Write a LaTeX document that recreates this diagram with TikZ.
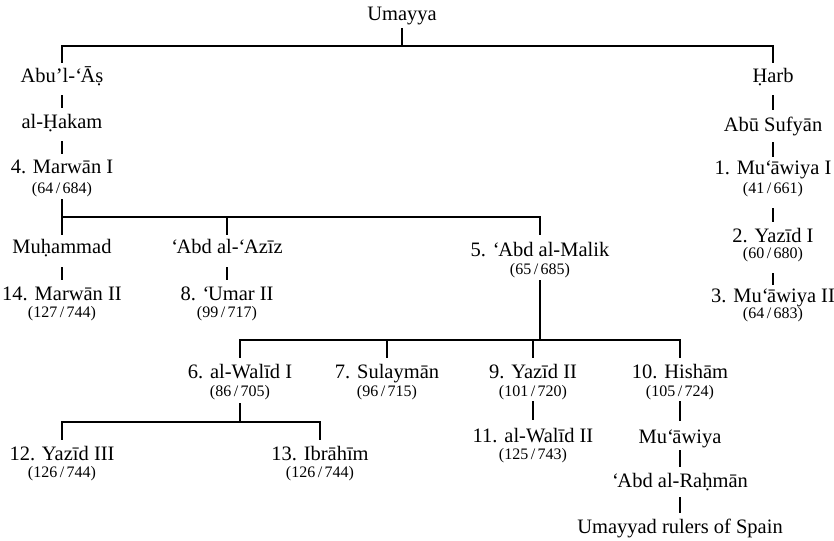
\documentclass[tikz,border=0pt]{standalone}
\usepackage{fontspec}
\setmainfont{Liberation Serif}
\newcommand\yr[2]{(#1\kern2.5pt/\kern2.5pt#2)}
\newcommand\ain{‘\kern-1.5pt}
\begin{document}
\begin{tikzpicture}[x=1pt,y=-1pt,
  nm/.style={anchor=base,inner sep=0pt,font=\fontsize{20.5}{24}\selectfont,text height=14pt,text depth=5pt},
  dt/.style={anchor=base,inner sep=0pt,font=\fontsize{16}{19}\selectfont,text height=10pt,text depth=4pt},
  ln/.style={line width=1.6pt}]
\useasboundingbox (0,0) rectangle (834,540);
% nodes
\node[nm] (umayya) at (402,20.7) {Umayya};
\node[nm] (abul) at (62,83) {Abu’l-\ain Āṣ};
\node[nm] (hakam) at (62,129) {al-Ḥakam};
\node[nm] (marwan1) at (62,174) {4. Marwān I};
\node[dt] (marwan1D) at (62,193) {\yr{64}{684}};
\node[nm] (harb) at (773,83) {Ḥarb};
\node[nm] (sufyan) at (773,132) {Abū Sufyān};
\node[nm] (muaw1) at (773,175) {1. Mu\ain āwiya I};
\node[dt] (muaw1D) at (773,193) {\yr{41}{661}};
\node[nm] (yazid1) at (773,242) {2. Yazīd I};
\node[dt] (yazid1D) at (773,258) {\yr{60}{680}};
\node[nm] (muaw2) at (773,302) {3. Mu\ain āwiya II};
\node[dt] (muaw2D) at (773,318) {\yr{64}{683}};
\node[nm] (muhammad) at (62,253) {Muḥammad};
\node[nm] (abdalaziz) at (227,253) {\ain Abd al-\ain Azīz};
\node[nm] (abdmalik) at (540,256) {5. \ain Abd al-Malik};
\node[dt] (abdmalikD) at (540,274) {\yr{65}{685}};
\node[nm] (marwan2) at (62,300) {14. Marwān II};
\node[dt] (marwan2D) at (62,317) {\yr{127}{744}};
\node[nm] (umar2) at (227,300) {8. \ain Umar II};
\node[dt] (umar2D) at (227,317) {\yr{99}{717}};
\node[nm] (walid1) at (240,378) {6. al-Walīd I};
\node[dt] (walid1D) at (240,396) {\yr{86}{705}};
\node[nm] (sulayman) at (387,378) {7. Sulaymān};
\node[dt] (sulaymanD) at (387,396) {\yr{96}{715}};
\node[nm] (yazid2) at (533,378) {9. Yazīd II};
\node[dt] (yazid2D) at (533,396) {\yr{101}{720}};
\node[nm] (hisham) at (680,378) {10. Hishām};
\node[dt] (hishamD) at (680,396) {\yr{105}{724}};
\node[nm] (walid2) at (533,442) {11. al-Walīd II};
\node[dt] (walid2D) at (533,459) {\yr{125}{743}};
\node[nm] (muawiya) at (680,443) {Mu\ain āwiya};
\node[nm] (rahman) at (680,487) {\ain Abd al-Raḥmān};
\node[nm] (rulers) at (680,533) {Umayyad rulers of Spain};
\node[nm] (yazid3) at (62,460) {12. Yazīd III};
\node[dt] (yazid3D) at (62,477) {\yr{126}{744}};
\node[nm] (ibrahim) at (320,460) {13. Ibrāhīm};
\node[dt] (ibrahimD) at (320,477) {\yr{126}{744}};
% bar coordinates
\coordinate (bar1) at (402,46);
\coordinate (bar2) at (300,217);
\coordinate (bar3) at (460,340);
\coordinate (bar4) at (200,422);
% top bar
\draw[ln,shorten <=2pt] (umayya.south) -- (umayya.south |- bar1);
\draw[ln,shorten <=6pt,shorten >=6pt] (abul.north) |- (bar1) -| (harb.north);
% left line
\draw[ln,shorten <=7pt,shorten >=7pt] (abul.south) -- (hakam.north);
\draw[ln,shorten <=7pt,shorten >=6pt] (hakam.south) -- (marwan1.north);
% Marwan bar
\draw[ln,shorten <=2pt] (marwan1D.south) -- (marwan1D.south |- bar2);
\draw[ln,shorten <=4pt,shorten >=7pt] (muhammad.north) |- (bar2) -| (abdmalik.north);
\draw[ln,shorten >=4pt] (abdalaziz.north |- bar2) -- (abdalaziz.north);
\draw[ln,shorten <=9pt,shorten >=6pt] (muhammad.south) -- (marwan2.north);
\draw[ln,shorten <=9pt,shorten >=6pt] (abdalaziz.south) -- (umar2.north);
% Abd al-Malik bar
\draw[ln,shorten <=2pt] (abdmalikD.south) -- (abdmalikD.south |- bar3);
\draw[ln,shorten <=6pt,shorten >=6pt] (walid1.north) |- (bar3) -| (hisham.north);
\draw[ln,shorten >=6pt] (sulayman.north |- bar3) -- (sulayman.north);
\draw[ln,shorten >=6pt] (yazid2.north |- bar3) -- (yazid2.north);
% al-Walid bar
\draw[ln,shorten <=3pt] (walid1D.south) -- (walid1D.south |- bar4);
\draw[ln,shorten <=6pt,shorten >=6pt] (yazid3.north) |- (bar4) -| (ibrahim.north);
% Yazid II and Hisham lines
\draw[ln,shorten <=1pt,shorten >=8pt] (yazid2D.south) -- (walid2.north);
\draw[ln,shorten <=1pt,shorten >=8pt] (hishamD.south) -- (muawiya.north);
\draw[ln,shorten <=2pt,shorten >=6pt] (muawiya.south) -- (rahman.north);
\draw[ln,shorten <=5pt,shorten >=6pt] (rahman.south) -- (rulers.north);
% right column
\draw[ln,shorten <=7pt,shorten >=8pt] (harb.south) -- (sufyan.north);
\draw[ln,shorten <=5pt,shorten >=4pt] (sufyan.south) -- (muaw1.north);
\draw[ln,shorten <=11pt,shorten >=6pt] (muaw1D.south) -- (yazid1.north);
\draw[ln,shorten <=11pt,shorten >=3pt] (yazid1D.south) -- (muaw2.north);
\end{tikzpicture}
\end{document}
